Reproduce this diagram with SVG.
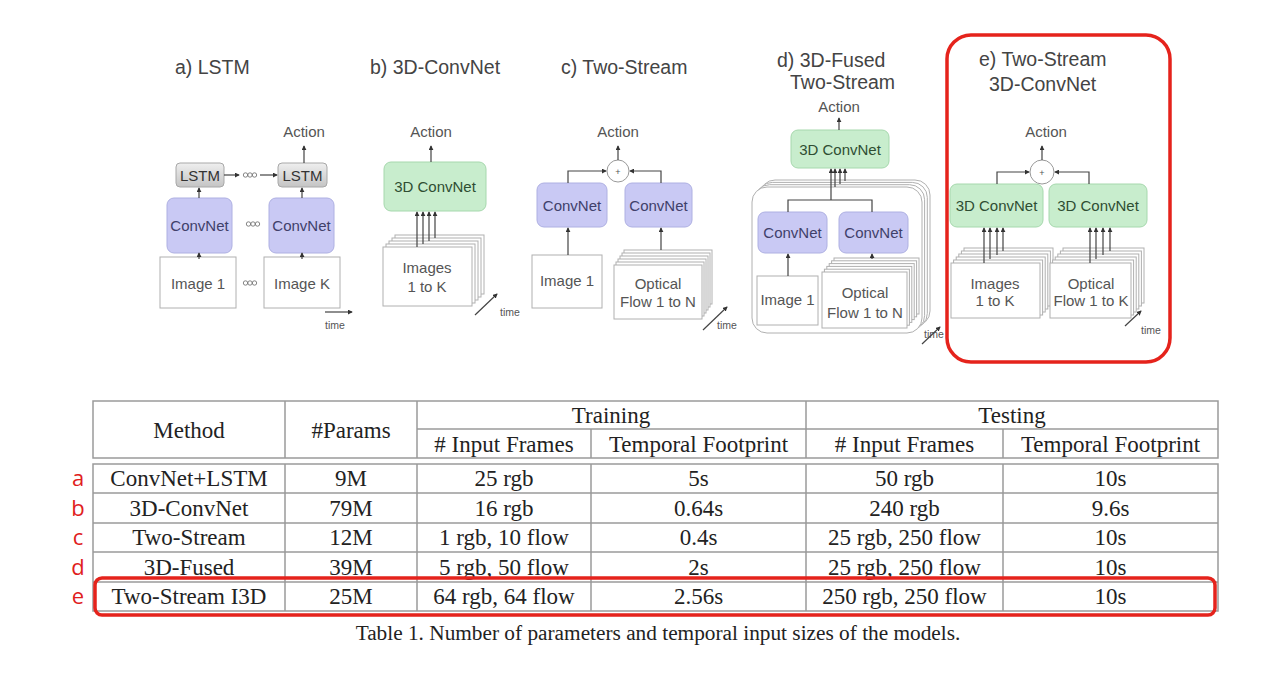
<svg xmlns="http://www.w3.org/2000/svg" width="1280" height="676" viewBox="0 0 1280 676">
<defs>
<marker id="ah" viewBox="0 0 6 6" refX="5" refY="3" markerWidth="5" markerHeight="5" markerUnits="userSpaceOnUse" orient="auto"><path d="M0,0 L6,3 L0,6 z" fill="#333"/></marker>
<linearGradient id="lstmg" x1="0" y1="0" x2="0" y2="1"><stop offset="0" stop-color="#efefef"/><stop offset="1" stop-color="#c4c4c4"/></linearGradient>
</defs>
<style>
.title{font-family:"Liberation Sans",Arial,sans-serif;font-size:19.5px;fill:#444}
.lbl{font-family:"Liberation Sans",Arial,sans-serif;font-size:15px;fill:#555;text-anchor:middle}
.small{font-family:"Liberation Sans",Arial,sans-serif;font-size:10.5px;fill:#555}
.conv{fill:#c9c9f4;stroke:#aeb0e2;stroke-width:1}
.convt{font-family:"Liberation Sans",Arial,sans-serif;font-size:15px;fill:#40406a;text-anchor:middle}
.g3d{fill:#c8edcd;stroke:#a6d8ad;stroke-width:1}
.g3dt{font-family:"Liberation Sans",Arial,sans-serif;font-size:15px;fill:#2f4d33;text-anchor:middle}
.lstm{fill:url(#lstmg);stroke:#a8a8a8;stroke-width:1}
.img{fill:#fff;stroke:#b0b0b0;stroke-width:1}
.ar{fill:none;stroke:#444;stroke-width:1.2;marker-end:url(#ah)}
.ln{fill:none;stroke:#444;stroke-width:1.2}
.dots{fill:none;stroke:#777;stroke-width:0.9}
.plus{fill:#fff;stroke:#999;stroke-width:1}
.tab{fill:none;stroke:#9a9a9a;stroke-width:1.5}
.tt{font-family:"Liberation Serif","Times New Roman",serif;font-size:23px;fill:#222;text-anchor:middle}
.red{fill:none;stroke:#e5231c;stroke-width:3.5}
.rl{font-family:"Open Sans","Liberation Sans",sans-serif;font-size:22px;fill:#e0201c;text-anchor:middle}
.cap{font-family:"Liberation Serif","Times New Roman",serif;font-size:21.3px;fill:#222;text-anchor:middle}
</style>
<rect width="1280" height="676" fill="#fff"/>

<!-- a) LSTM -->
<g id="lstm-panel">
<text class="title" x="175" y="74">a) LSTM</text>
<text class="lbl" x="304" y="137">Action</text>
<g id="lstm1"><rect class="lstm" x="176" y="163" width="48" height="24" rx="4"/><text class="lbl" x="200" y="180.5" style="fill:#333">LSTM</text></g>
<g id="lstm2"><rect class="lstm" x="278" y="163" width="49" height="24" rx="4"/><text class="lbl" x="302.5" y="180.5" style="fill:#333">LSTM</text></g>
<g id="convA1"><rect class="conv" x="167" y="198" width="65" height="55" rx="7"/><text class="convt" x="199.5" y="230.5">ConvNet</text></g>
<g id="convA2"><rect class="conv" x="269" y="198" width="65" height="55" rx="7"/><text class="convt" x="301.5" y="230.5">ConvNet</text></g>
<g id="imgA1"><rect class="img" x="160" y="257" width="76" height="51"/><text class="lbl" x="198" y="288.5">Image 1</text></g>
<g id="imgAK"><rect class="img" x="264" y="257" width="76" height="51"/><text class="lbl" x="302" y="288.5">Image K</text></g>
<g class="dots"><circle cx="245.5" cy="175" r="2.2"/><circle cx="250" cy="175" r="2.2"/><circle cx="254.5" cy="175" r="2.2"/>
<circle cx="248.5" cy="224" r="2.2"/><circle cx="253" cy="224" r="2.2"/><circle cx="257.5" cy="224" r="2.2"/>
<circle cx="245.5" cy="283" r="2.2"/><circle cx="250" cy="283" r="2.2"/><circle cx="254.5" cy="283" r="2.2"/></g>
<text class="small" x="325" y="329">time</text>
</g>

<!-- b) 3D-ConvNet -->
<g id="c3d-panel">
<text class="title" x="370" y="74">b) 3D-ConvNet</text>
<text class="lbl" x="431" y="137">Action</text>
<g id="c3dB"><rect class="g3d" x="384" y="162" width="102" height="49" rx="7"/><text class="g3dt" x="435" y="192">3D ConvNet</text></g>
<g id="imgsB">
<rect class="img" x="395" y="235" width="89" height="59"/>
<rect class="img" x="392" y="238" width="89" height="59"/>
<rect class="img" x="389" y="241" width="89" height="59"/>
<rect class="img" x="386" y="244" width="89" height="59"/>
<rect class="img" x="383" y="247" width="89" height="59"/>
<text class="lbl" x="427" y="273">Images</text><text class="lbl" x="427" y="292">1 to K</text>
</g>
<text class="small" x="500" y="316">time</text>
</g>

<!-- c) Two-Stream -->
<g id="ts-panel">
<text class="title" x="561" y="74">c) Two-Stream</text>
<text class="lbl" x="618" y="137">Action</text>
<g id="plusC"><circle class="plus" cx="618" cy="171" r="11"/><text class="small" x="618" y="174.5" style="text-anchor:middle;font-size:9px">+</text></g>
<g id="convC1"><rect class="conv" x="537" y="183" width="70" height="44" rx="7"/><text class="convt" x="572" y="210.5">ConvNet</text></g>
<g id="convC2"><rect class="conv" x="625" y="183" width="67" height="44" rx="7"/><text class="convt" x="658.5" y="210.5">ConvNet</text></g>
<g id="imgC1"><rect class="img" x="532" y="255" width="70" height="53"/><text class="lbl" x="567" y="285.5">Image 1</text></g>
<g id="flowC">
<rect class="img" x="624" y="250" width="88" height="54"/>
<rect class="img" x="622" y="253" width="88" height="54"/>
<rect class="img" x="620" y="256" width="88" height="54"/>
<rect class="img" x="618" y="259" width="88" height="54"/>
<rect class="img" x="616" y="262" width="88" height="54"/>
<rect class="img" x="614" y="265" width="88" height="54"/>
<text class="lbl" x="658" y="289">Optical</text><text class="lbl" x="658" y="307">Flow 1 to N</text>
</g>
<text class="small" x="717" y="329">time</text>
</g>

<!-- d) 3D-Fused Two-Stream -->
<g id="fused-panel">
<text class="title" x="777" y="67">d) 3D-Fused</text>
<text class="title" x="790" y="89">Two-Stream</text>
<text class="lbl" x="839" y="112">Action</text>
<g id="c3dD"><rect class="g3d" x="791" y="130" width="98" height="38" rx="7"/><text class="g3dt" x="840" y="154.5">3D ConvNet</text></g>
<g id="stackD">
<rect class="img" x="760" y="180" width="170" height="146" rx="15"/>
<rect class="img" x="757.3" y="182.4" width="170" height="146" rx="15"/>
<rect class="img" x="754.6" y="184.7" width="170" height="146" rx="15"/>
<rect class="img" x="752" y="187" width="170" height="146" rx="15"/>
</g>
<g id="convD1"><rect class="conv" x="758" y="212" width="69" height="41" rx="7"/><text class="convt" x="792.5" y="238">ConvNet</text></g>
<g id="convD2"><rect class="conv" x="839" y="212" width="69" height="41" rx="7"/><text class="convt" x="873.5" y="238">ConvNet</text></g>
<g id="imgD1"><rect class="img" x="757" y="276" width="61" height="49"/><text class="lbl" x="787.5" y="305">Image 1</text></g>
<g id="flowD">
<rect class="img" x="834" y="258" width="85" height="56"/>
<rect class="img" x="831.6" y="260.8" width="85" height="56"/>
<rect class="img" x="829.2" y="263.6" width="85" height="56"/>
<rect class="img" x="826.8" y="266.4" width="85" height="56"/>
<rect class="img" x="824.4" y="269.2" width="85" height="56"/>
<rect class="img" x="822" y="272" width="85" height="56"/>
<text class="lbl" x="865" y="298">Optical</text><text class="lbl" x="865" y="318">Flow 1 to N</text>
</g>
<text class="small" x="924" y="338">time</text>
</g>

<!-- e) Two-Stream 3D-ConvNet -->
<g id="i3d-panel">
<rect class="red" x="947" y="35" width="223" height="327" rx="24"/>
<text class="title" x="979" y="66">e) Two-Stream</text>
<text class="title" x="989" y="91">3D-ConvNet</text>
<text class="lbl" x="1046" y="137">Action</text>
<g id="plusE"><circle class="plus" cx="1042" cy="172" r="12"/><text class="small" x="1042" y="175.5" style="text-anchor:middle;font-size:9px">+</text></g>
<g id="c3dE1"><rect class="g3d" x="950" y="184" width="93" height="43" rx="7"/><text class="g3dt" x="996.5" y="211">3D ConvNet</text></g>
<g id="c3dE2"><rect class="g3d" x="1049" y="184" width="98" height="43" rx="7"/><text class="g3dt" x="1098" y="211">3D ConvNet</text></g>
<g id="imgsE">
<rect class="img" x="964" y="248" width="89" height="55"/>
<rect class="img" x="961.4" y="251" width="89" height="55"/>
<rect class="img" x="958.8" y="254" width="89" height="55"/>
<rect class="img" x="956.2" y="257" width="89" height="55"/>
<rect class="img" x="953.6" y="260" width="89" height="55"/>
<rect class="img" x="951" y="263" width="89" height="55"/>
<text class="lbl" x="995" y="289">Images</text><text class="lbl" x="995" y="306">1 to K</text>
</g>
<g id="flowE">
<rect class="img" x="1063" y="248" width="81" height="55"/>
<rect class="img" x="1060.4" y="251" width="81" height="55"/>
<rect class="img" x="1057.8" y="254" width="81" height="55"/>
<rect class="img" x="1055.2" y="257" width="81" height="55"/>
<rect class="img" x="1052.6" y="260" width="81" height="55"/>
<rect class="img" x="1050" y="263" width="81" height="55"/>
<text class="lbl" x="1091" y="289">Optical</text><text class="lbl" x="1091" y="306">Flow 1 to K</text>
</g>
<text class="small" x="1141" y="334">time</text>
</g>

<!-- connectors -->
<g id="connectors">
<line class="ar" x1="304" y1="163" x2="304" y2="146"/>
<line class="ar" x1="224" y1="175" x2="239" y2="175"/>
<line class="ar" x1="260" y1="175" x2="277" y2="175"/>
<line class="ar" x1="199" y1="198" x2="199" y2="188"/>
<line class="ar" x1="302" y1="198" x2="302" y2="188"/>
<line class="ar" x1="199" y1="259" x2="199" y2="253"/>
<line class="ar" x1="302" y1="259" x2="302" y2="253"/>
<line class="ar" x1="325" y1="312" x2="352" y2="312"/>
<line class="ar" x1="431" y1="162" x2="431" y2="146"/>
<line class="ar" x1="417" y1="247" x2="417" y2="212"/>
<line class="ar" x1="423" y1="244" x2="423" y2="212"/>
<line class="ar" x1="429" y1="241" x2="429" y2="212"/>
<line class="ar" x1="435" y1="238" x2="435" y2="212"/>
<line class="ar" x1="475" y1="315" x2="497" y2="294"/>
<line class="ar" x1="618" y1="160" x2="618" y2="146"/>
<path class="ar" d="M568,183 V171 H606"/>
<path class="ar" d="M661,183 V171 H630"/>
<line class="ar" x1="568" y1="255" x2="568" y2="228"/>
<line class="ar" x1="661" y1="250" x2="661" y2="228"/>
<line class="ar" x1="703" y1="330" x2="727" y2="307"/>
<line class="ar" x1="839" y1="130" x2="839" y2="118"/>
<path class="ln" d="M788,212 V200 H872 V212"/>
<line class="ar" x1="831" y1="200" x2="831" y2="169"/>
<line class="ar" x1="835" y1="187" x2="835" y2="169"/>
<line class="ar" x1="840" y1="184" x2="840" y2="169"/>
<line class="ar" x1="845" y1="181" x2="845" y2="169"/>
<line class="ar" x1="788" y1="276" x2="788" y2="254"/>
<line class="ar" x1="872" y1="259" x2="872" y2="254"/>
<line class="ar" x1="922" y1="344" x2="940" y2="327"/>
<line class="ar" x1="1042" y1="160" x2="1042" y2="146"/>
<path class="ar" d="M997,184 V172 H1029"/>
<path class="ar" d="M1089,184 V172 H1055"/>
<line class="ar" x1="984" y1="263" x2="984" y2="228"/>
<line class="ar" x1="990" y1="259" x2="990" y2="228"/>
<line class="ar" x1="997" y1="255" x2="997" y2="228"/>
<line class="ar" x1="1003" y1="251" x2="1003" y2="228"/>
<line class="ar" x1="1090" y1="263" x2="1090" y2="228"/>
<line class="ar" x1="1096" y1="259" x2="1096" y2="228"/>
<line class="ar" x1="1103" y1="255" x2="1103" y2="228"/>
<line class="ar" x1="1110" y1="251" x2="1110" y2="228"/>
<line class="ar" x1="1125" y1="326" x2="1141" y2="311"/>
</g>

<!-- table -->
<g id="table">
<rect class="tab" x="93" y="401" width="1125" height="57"/>
<rect class="tab" x="93" y="464" width="1125" height="147"/>
<path class="tab" d="M285,401 V458 M417,401 V458 M806,401 V458 M591,429 V458 M1003,429 V458 M417,429 H1218"/>
<path class="tab" d="M285,464 V611 M417,464 V611 M591,464 V611 M806,464 V611 M1003,464 V611 M93,493 H1218 M93,523 H1218 M93,552 H1218 M93,582 H1218"/>
<text class="tt" x="189" y="438">Method</text>
<text class="tt" x="351" y="438">#Params</text>
<text class="tt" x="611" y="423">Training</text>
<text class="tt" x="1012" y="423">Testing</text>
<text class="tt" x="504" y="452"># Input Frames</text>
<text class="tt" x="698.5" y="452">Temporal Footprint</text>
<text class="tt" x="904.5" y="452"># Input Frames</text>
<text class="tt" x="1110.5" y="452">Temporal Footprint</text>
<g id="row-a"><text class="tt" x="189" y="486">ConvNet+LSTM</text><text class="tt" x="351" y="486">9M</text><text class="tt" x="504" y="486">25 rgb</text><text class="tt" x="698.5" y="486">5s</text><text class="tt" x="904.5" y="486">50 rgb</text><text class="tt" x="1110.5" y="486">10s</text></g>
<g id="row-b"><text class="tt" x="189" y="516">3D-ConvNet</text><text class="tt" x="351" y="516">79M</text><text class="tt" x="504" y="516">16 rgb</text><text class="tt" x="698.5" y="516">0.64s</text><text class="tt" x="904.5" y="516">240 rgb</text><text class="tt" x="1110.5" y="516">9.6s</text></g>
<g id="row-c"><text class="tt" x="189" y="545">Two-Stream</text><text class="tt" x="351" y="545">12M</text><text class="tt" x="504" y="545">1 rgb, 10 flow</text><text class="tt" x="698.5" y="545">0.4s</text><text class="tt" x="904.5" y="545">25 rgb, 250 flow</text><text class="tt" x="1110.5" y="545">10s</text></g>
<g id="row-d"><text class="tt" x="189" y="575">3D-Fused</text><text class="tt" x="351" y="575">39M</text><text class="tt" x="504" y="575">5 rgb, 50 flow</text><text class="tt" x="698.5" y="575">2s</text><text class="tt" x="904.5" y="575">25 rgb, 250 flow</text><text class="tt" x="1110.5" y="575">10s</text></g>
<g id="row-e"><text class="tt" x="189" y="604">Two-Stream I3D</text><text class="tt" x="351" y="604">25M</text><text class="tt" x="504" y="604">64 rgb, 64 flow</text><text class="tt" x="698.5" y="604">2.56s</text><text class="tt" x="904.5" y="604">250 rgb, 250 flow</text><text class="tt" x="1110.5" y="604">10s</text></g>
<rect class="red" x="95" y="578" width="1120" height="37" rx="7"/>
<g id="row-labels">
<text class="rl" x="78" y="486">a</text>
<text class="rl" x="78" y="516">b</text>
<text class="rl" x="78" y="545">c</text>
<text class="rl" x="78" y="575">d</text>
<text class="rl" x="78" y="604">e</text>
</g>
<text class="cap" x="658" y="640">Table 1. Number of parameters and temporal input sizes of the models.</text>
</g>
</svg>
